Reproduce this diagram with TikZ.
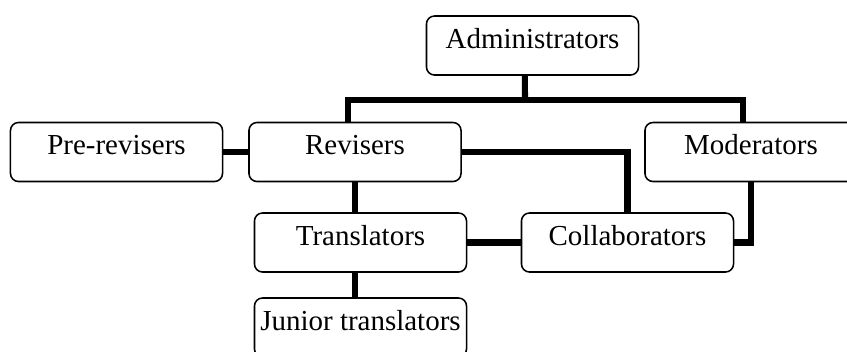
\documentclass[tikz,border=0pt]{standalone}
\usepackage{fontspec}
\setmainfont{Liberation Serif}
\usetikzlibrary{positioning}

\begin{document}
\begin{tikzpicture}[x=0.025cm,y=-0.025cm,
  role/.style={draw=black,line width=1.1pt,rounded corners=0.2cm,fill=white,
    minimum width=5.3cm,inner sep=0pt,text height=0.8cm,text depth=0.675cm,
    font=\fontsize{20.6}{24}\selectfont},
  link/.style={draw=black,line width=4.3pt}]
\useasboundingbox (0,0) rectangle (847,351);

\node[role] (admin) at (532.5,45.5) {Administrators};
\node[role] (prerev) at (116.5,152) {Pre-revisers};
\node[role] (revisers) at (355,152) {Revisers};
\node[role] (moderators) at (751,152) {Moderators};
\node[role] (translators) at (360.5,242.5) {Translators};
\node[role] (collab) at (627.5,242.5) {Collaborators};
\node[role] (junior) at (360.5,327.5) {Junior translators};

\coordinate (bus) at (525,100);
\draw[link] ([xshift=-0.19cm]admin.south) -- (bus);
\draw[link] ([xshift=-0.175cm]revisers.north) |- (bus) -| ([xshift=-0.2cm]moderators.north);
\draw[link] (prerev) -- (revisers);
\draw[link] (revisers.east) -| (collab.north);
\draw[link] (revisers.south) -- (revisers.south |- translators.north);
\draw[link] (translators) -- (collab);
\draw[link] (moderators.south) |- (collab.east);
\draw[link] (translators.south -| revisers.south) -- (junior.north -| revisers.south);

\end{tikzpicture}
\end{document}
